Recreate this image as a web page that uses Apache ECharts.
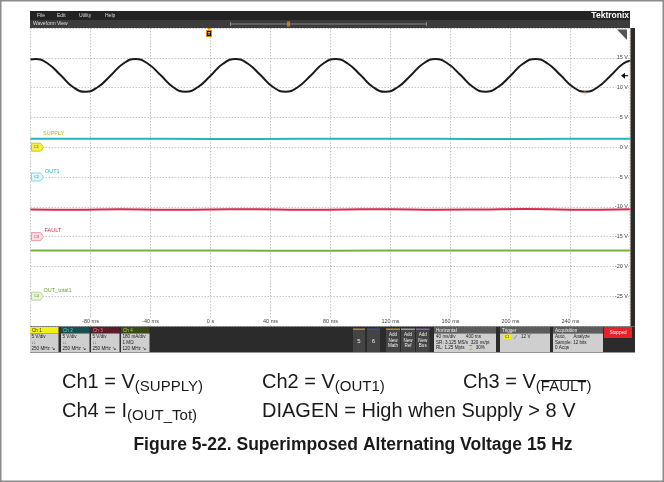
<!DOCTYPE html>
<html>
<head>
<meta charset="utf-8">
<script src="https://cdn.jsdelivr.net/npm/echarts@6/dist/echarts.min.js"></script>
<style>
  html, body { margin: 0; padding: 0; background: #fff; }
  #chart { width: 664px; height: 482px; }
</style>
</head>
<body>
<div id="chart"></div>
<script>
// tick labels shown on the scope screen
const timeTicks = [-80, -40, 0, 40, 80, 120, 160, 200, 240]
const voltTicks = [15, 10, 5, 0, -5, -10, -15, -20, -25]

// Ch1 supply (15 Hz ripple)
const supplyT = [-120, -116.7, -108.3, -100, -91.7, -83.3, -75, -66.7, -58.3, -50, -41.7, -33.3, -25, -16.7, -8.3, 0,
  8.3, 16.7, 25, 33.3, 41.7, 50, 58.3, 66.7, 75, 83.3, 91.7, 100, 108.3, 116.7, 125, 133.3, 141.7, 150, 158.3,
  166.7, 175, 183.3, 191.7, 200, 208.3, 216.7, 225, 233.3, 241.7, 250, 258.3, 266.7, 275, 280]
const supplyV = [14.7,
  14.8, 14.0, 12.1, 10.1, 9.3, 10.1, 12.0, 14.0,
  14.8, 14.0, 12.1, 10.1, 9.3, 10.1, 12.0, 14.0,
  14.8, 14.0, 12.1, 10.1, 9.3, 10.1, 12.0, 14.0,
  14.8, 14.0, 12.1, 10.1, 9.3, 10.1, 12.0, 14.0,
  14.8, 14.0, 12.1, 10.1, 9.3, 10.1, 12.0, 14.0,
  14.8, 14.0, 12.1, 10.1, 9.3, 10.1, 12.0, 14.0,
  14.5]

// Ch2 OUT1
const out1T = [-120, -60, 0, 60, 120, 180, 240, 280]
const out1V = [1.4, 1.42, 1.38, 1.4, 1.42, 1.38, 1.4, 1.4]

// Ch3 FAULT
const faultT = [-120, -90, -60, -30, 0, 30, 60, 90, 120, 150, 180, 210, 240, 280]
const faultV = [-10.45, -10.5, -10.42, -10.5, -10.45, -10.4, -10.5, -10.45, -10.4, -10.5, -10.45, -10.35, -10.5, -10.4]

// Ch4 OUT_total
const outTotT = [-120, -40, 40, 120, 200, 280]
const outTotV = [-17.35, -17.33, -17.36, -17.35, -17.34, -17.35]

// channel badges (ground reference of each channel)
const chNames = ['SUPPLY', 'OUT1', 'FAULT', 'OUT_total1']
const chOffsets = [0, -5, -15, -25]

const chart = echarts.init(document.getElementById('chart'))
const F = '"Liberation Sans", Arial, sans-serif'
const ink = '#1a1a1a'
const els = []

const ctx = document.createElement('canvas').getContext('2d')
function tw(s, font) { ctx.font = font; return ctx.measureText(s).width }

function rect(x, y, w, h, fill, z) {
  els.push({ type: 'rect', silent: true, z: z || 5, shape: { x, y, width: w, height: h }, style: { fill } })
}
function txt(x, y, s, size, color, align, weight, z) {
  els.push({
    type: 'text', silent: true, z: z || 10, x, y,
    style: {
      text: s, font: (weight || 'normal') + ' ' + size + 'px ' + F, fill: color,
      textAlign: align || 'left', textVerticalAlign: 'middle', align: align || 'left', verticalAlign: 'middle'
    }
  })
}
function seg(x1, y1, x2, y2, color, w, dash, z) {
  els.push({ type: 'line', silent: true, z: z || 10, shape: { x1, y1, x2, y2 }, style: { stroke: color, lineWidth: w, lineDash: dash || null } })
}
function poly(pts, fill, z) {
  els.push({ type: 'polygon', silent: true, z: z || 10, shape: { points: pts }, style: { fill } })
}

// outer border of the figure
els.push({ type: 'rect', silent: true, z: 1, shape: { x: 0.75, y: 0.75, width: 662.5, height: 480.5 }, style: { fill: 'none', stroke: '#8a8a8a', lineWidth: 1.5 } })

// scope menu bar + waveform view bar
rect(30, 11, 600, 9, '#232323')
txt(37, 15.5, 'File', 5, '#ddd')
txt(57, 15.5, 'Edit', 5, '#ddd')
txt(79, 15.5, 'Utility', 5, '#ddd')
txt(105, 15.5, 'Help', 5, '#ddd')
txt(629, 15.5, 'Tektronix', 8.5, '#fff', 'right', 'bold')
rect(30, 20, 600, 8, '#3c3c3c')
txt(33, 24, 'Waveform View', 5, '#ddd')
seg(230, 24, 427, 24, '#9a9a9a', 0.8)
seg(230.5, 22, 230.5, 26, '#9a9a9a', 0.8)
seg(426.5, 22, 426.5, 26, '#9a9a9a', 0.8)
rect(287, 21.5, 3, 5, '#c87a20', 11)

// right side strip of the scope screen
rect(630.5, 28, 4.5, 298.5, '#2b2b2b')
seg(629.8, 28, 629.8, 326, '#f0b070', 0.7, [1.5, 1.5], 12)
// corner triangle
poly([[617, 29.5], [627, 29.5], [627, 40]], '#555', 12)
// trigger position marker
poly([[207, 28], [211, 28], [209, 30]], '#e88a00', 12)
rect(206, 30, 6, 7, '#e88a00', 12)
rect(207, 31, 4, 5, '#111', 13)
txt(209, 33.6, 'T', 4, '#fff', 'center', 'bold', 14)
// trigger level arrow (12 V)
poly([[621, 75.7], [625, 72.7], [625, 78.7]], '#111', 12)
seg(624, 75.7, 628, 75.7, '#111', 1.2, null, 12)
seg(582.5, 93, 587.5, 93, '#f0a060', 0.6, null, 12)
seg(585, 90.5, 585, 95.5, '#f0a060', 0.6, null, 12)

// bottom control panel
rect(30, 326.5, 605, 26, '#2b2b2b')
const chBoxes = [
  { x: 30, head: '#f2ee1a', hc: '#333', name: 'Ch 1', l1: '5 V/div', l2: '\u238D', l3: '250 MHz \u2198' },
  { x: 61, head: '#174f4f', hc: '#5fd8d8', name: 'Ch 2', l1: '5 V/div', l2: '\u238D', l3: '250 MHz \u2198' },
  { x: 91, head: '#5a1c28', hc: '#f08098', name: 'Ch 3', l1: '5 V/div', l2: '\u238D', l3: '250 MHz \u2198' },
  { x: 121, head: '#394815', hc: '#a8d860', name: 'Ch 4', l1: '180 mA/div', l2: '1 M\u03A9', l3: '120 MHz \u2198' }
]
chBoxes.forEach(b => {
  rect(b.x, 327, 28.5, 6.5, b.head, 6)
  rect(b.x, 333.5, 28.5, 18.5, '#cfcfcf', 6)
  txt(b.x + 2, 330.3, b.name, 4.6, b.hc)
  txt(b.x + 1.5, 337, b.l1, 4.6, '#222')
  txt(b.x + 1.5, 342.5, b.l2, 4.6, '#222')
  txt(b.x + 1.5, 348.5, b.l3, 4.6, '#222')
})
// math / ref / bus buttons
const btns = [
  { x: 353, w: 12, top: '#c08030', t: '5', big: true },
  { x: 367, w: 13, top: '#3a4aa0', t: '6', big: true },
  { x: 386, w: 14, top: '#c08030', t: 'Add\nNew\nMath' },
  { x: 401, w: 14, top: '#9a9a9a', t: 'Add\nNew\nRef' },
  { x: 416, w: 13.5, top: '#8a60b0', t: 'Add\nNew\nBus' }
]
btns.forEach(b => {
  rect(b.x, 328.5, b.w, 23.5, '#444', 6)
  rect(b.x, 328.5, b.w, 1.5, b.top, 7)
  if (b.big) txt(b.x + b.w / 2, 341, b.t, 6, '#eee', 'center')
  else els.push({ type: 'text', silent: true, z: 10, x: b.x + b.w / 2, y: 340.5,
    style: { text: b.t, font: '4.6px ' + F, fill: '#eee', textAlign: 'center', align: 'center', textVerticalAlign: 'middle', verticalAlign: 'middle', lineHeight: 5.5 } })
})
// horizontal / trigger / acquisition boxes
const infoBoxes = [
  { x: 434, w: 62, name: 'Horizontal', lines: ['40 ms/div        400 ms', 'SR: 3.125 MS/s  320 ns/pt', 'RL: 1.25 Mpts   \u231B 30%'] },
  { x: 500, w: 50, name: 'Trigger', lines: ['', '', ''] },
  { x: 553, w: 50, name: 'Acquisition', lines: ['Auto,      Analyze', 'Sample: 12 bits', '0 Acqs'] }
]
infoBoxes.forEach(b => {
  rect(b.x, 327, b.w, 6.5, '#5c5c5c', 6)
  rect(b.x, 333.5, b.w, 18.5, '#cfcfcf', 6)
  txt(b.x + 2, 330.3, b.name, 4.6, '#eee')
  b.lines.forEach((l, i) => txt(b.x + 2, 337 + i * 5.6, l, 4.6, '#222'))
})
rect(503, 334.5, 8, 4.5, '#f2ee1a', 8)
txt(507, 336.8, 'C1', 3.5, '#333', 'center', 'normal', 11)
seg(514, 339, 517, 335, '#6a78c8', 0.7)
txt(521, 337, '12 V', 4.6, '#222')
rect(604, 327, 28, 11, '#e8202a', 6)
txt(618, 332.5, 'Stopped', 4.6, '#fff', 'center')

// caption lines below the screenshot
const mainSize = 20, subSize = 15
function formula(x, base, main, sub, overWord) {
  const mf = mainSize + 'px ' + F, sf = subSize + 'px ' + F
  txt(x, base - 0.35 * mainSize, main, mainSize, ink)
  const w = tw(main, mf)
  const subBase = base + 3.5
  txt(x + w, subBase - 0.35 * subSize, sub, subSize, ink)
  if (overWord) {
    const x0 = x + w + tw('(', sf)
    seg(x0, subBase - 12, x0 + tw(overWord, sf), subBase - 12, ink, 1)
  }
}
formula(62, 389, 'Ch1 = V', '(SUPPLY)')
formula(262, 389, 'Ch2 = V', '(OUT1)')
formula(463, 389, 'Ch3 = V', '(FAULT)', 'FAULT')
formula(62, 418, 'Ch4 = I', '(OUT_Tot)')
txt(262, 418 - 0.35 * mainSize, 'DIAGEN = High when Supply > 8 V', mainSize, ink)
txt(353, 451 - 0.35 * 17.5, 'Figure 5-22. Superimposed Alternating Voltage 15 Hz', 17.5, ink, 'center', 'bold')

const zip = (a, b) => a.map((t, i) => [t, b[i]])

const badgeStyle = [
  { fill: '#f4f04a', border: '#c8c000', text: '#555', label: '#c0b400', lo: [12, -14] },
  { fill: '#e2f8fa', border: '#68d0de', text: '#2a9aa8', label: '#22a8b8', lo: [14, -5.5] },
  { fill: '#fadce2', border: '#e488a0', text: '#b04060', label: '#c83450', lo: [13.5, -6] },
  { fill: '#e8f4dc', border: '#a8d088', text: '#5a9030', label: '#6aa830', lo: [12.5, -6] }
]
function badges(i) {
  const s = badgeStyle[i]
  return {
    silent: true,
    animation: false,
    data: [
      {
        coord: [-120, chOffsets[i]],
        symbol: 'path://M0 0H9L12 4L9 8H0Z',
        symbolSize: [12, 8],
        symbolOffset: [7, 0],
        itemStyle: { color: s.fill, borderColor: s.border, borderWidth: 0.8 },
        label: { show: true, position: 'inside', offset: [-1, 0], formatter: 'C' + (i + 1), fontSize: 4, color: s.text, fontFamily: F }
      },
      {
        coord: [-120, chOffsets[i]],
        symbol: 'circle',
        symbolSize: 1,
        itemStyle: { color: 'rgba(0,0,0,0)' },
        label: { show: true, position: 'right', distance: 0, offset: s.lo, formatter: chNames[i], fontSize: 5.5, color: s.label, fontFamily: F }
      }
    ]
  }
}

const option = {
  animation: false,
  backgroundColor: '#fff',
  grid: { left: 30.5, top: 28, width: 600, height: 298 },
  xAxis: {
    type: 'value',
    min: -120,
    max: 280,
    interval: 40,
    axisLine: { show: false },
    axisTick: { show: false },
    axisLabel: {
      inside: true,
      margin: 1.5,
      fontSize: 5.5,
      color: '#444',
      fontFamily: F,
      backgroundColor: '#fff',
      formatter: v => timeTicks.includes(v) ? (v === 0 ? '0 s' : v + ' ms') : ''
    },
    splitLine: { show: true, lineStyle: { color: '#b8b8b8', width: 0.8, type: [1.5, 1.5] } }
  },
  yAxis: {
    type: 'value',
    position: 'right',
    min: -30,
    max: 20,
    interval: 5,
    axisLine: { show: false },
    axisTick: { show: false },
    axisLabel: {
      inside: true,
      margin: 2.5,
      fontSize: 5.5,
      color: '#444',
      fontFamily: F,
      backgroundColor: '#fff',
      formatter: v => voltTicks.includes(v) ? v + ' V' : ''
    },
    splitLine: { show: true, lineStyle: { color: '#b8b8b8', width: 0.8, type: [1.5, 1.5] } }
  },
  series: [
    {
      name: 'SUPPLY', type: 'line', data: zip(supplyT, supplyV), smooth: 0.5, showSymbol: false,
      lineStyle: { color: '#1a1a1a', width: 2 }, itemStyle: { color: '#1a1a1a' }, z: 4, markPoint: badges(0)
    },
    {
      name: 'OUT1', type: 'line', data: zip(out1T, out1V), smooth: true, showSymbol: false,
      lineStyle: { color: '#24b4c0', width: 2 }, itemStyle: { color: '#24b4c0' }, markPoint: badges(1)
    },
    {
      name: 'FAULT', type: 'line', data: zip(faultT, faultV), smooth: true, showSymbol: false,
      lineStyle: { color: '#d8284e', width: 2 }, itemStyle: { color: '#d8284e' }, markPoint: badges(2)
    },
    {
      name: 'OUT_total1', type: 'line', data: zip(outTotT, outTotV), smooth: true, showSymbol: false,
      lineStyle: { color: '#78b23a', width: 2 }, itemStyle: { color: '#78b23a' }, markPoint: badges(3)
    }
  ],
  graphic: { elements: els }
}

chart.setOption(option)
window.addEventListener('resize', () => chart.resize())
</script>
</body>
</html>
